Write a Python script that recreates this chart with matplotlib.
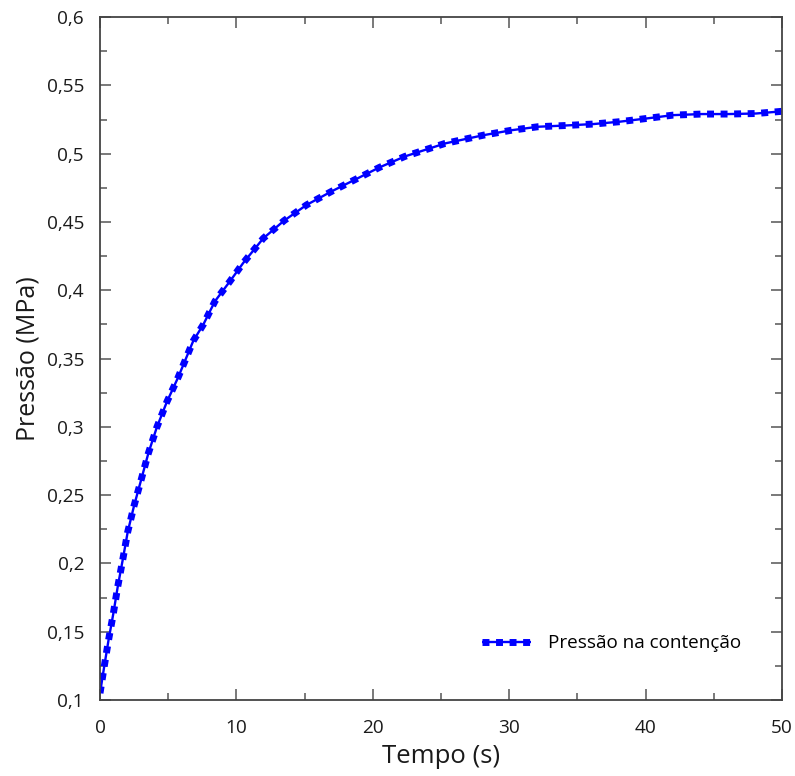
import matplotlib
matplotlib.use("Agg")
import matplotlib.pyplot as plt
from matplotlib.ticker import MultipleLocator, FuncFormatter

plt.rcParams["font.family"] = ["Open Sans", "DejaVu Sans"]

# values
tempo = [0, 0.3, 0.61, 0.98, 1.30, 1.69, 2.03, 2.49, 3.01, 3.54, 4.16, 4.89,
         5.74, 6.84, 7.58, 8.43, 9.53, 10.5, 11.97, 13.5, 15.15, 17.0, 18.7,
         20.5, 22.36, 25.3, 28.15, 30.2, 32.1, 34.1, 36.2, 38.1, 40.1, 42.0,
         44.1, 46.1, 48.1, 50.0]
pressao = [0.105, 0.124, 0.143, 0.1635, 0.183, 0.204, 0.223, 0.242, 0.261,
           0.2805, 0.2995, 0.318, 0.3365, 0.363, 0.375, 0.392, 0.4066, 0.420,
           0.438, 0.451, 0.4625, 0.4725, 0.481, 0.490, 0.498, 0.5075, 0.5136,
           0.5172, 0.5197, 0.5206, 0.5217, 0.5234, 0.5258, 0.5282, 0.529,
           0.529, 0.5294, 0.531]
serie = "Pressão na contenção"


def virgula(v, pos):
    s = f"{v:.3f}".rstrip("0").rstrip(".")
    return s.replace(".", ",")


fig = plt.figure(figsize=(7.95, 7.76), dpi=100)
ax = fig.add_axes([0.1258, 0.0979, 0.8578, 0.8801])

# thin line + a thick dashed copy that reads as square markers along the path
ln, = ax.plot(tempo, pressao, color="#0000ff", lw=1.7, solid_capstyle="butt")
sq, = ax.plot(tempo, pressao, color="#0000ff", lw=5.0,
              dashes=(1.0, 0.95), dash_capstyle="butt")

ax.set_xlim(0, 50)
ax.set_ylim(0.1, 0.6)
ax.xaxis.set_major_locator(MultipleLocator(10))
ax.xaxis.set_minor_locator(MultipleLocator(5))
ax.yaxis.set_major_locator(MultipleLocator(0.05))
ax.yaxis.set_minor_locator(MultipleLocator(0.025))
ax.yaxis.set_major_formatter(FuncFormatter(virgula))

ax.tick_params(which="both", direction="in", top=True, right=True,
               color="#555555", labelsize=13.7, labelcolor="#1a1a1a")
ax.tick_params(axis="x", pad=14)
ax.tick_params(axis="y", pad=11.5)
ax.tick_params(which="major", length=8, width=1.1)
ax.tick_params(which="minor", length=5, width=1.1)
for sp in ax.spines.values():
    sp.set_color("#444444")
    sp.set_linewidth(1.3)

ax.set_xlabel("Tempo (s)", fontsize=18.5, color="#1a1a1a", labelpad=5)
ax.set_ylabel("Pressão (MPa)", fontsize=18, color="#1a1a1a", labelpad=4)

ax.legend([(ln, sq)], [serie], loc="lower right", frameon=False,
          fontsize=13.6, bbox_to_anchor=(0.965, 0.045), handlelength=2.6,
          handletextpad=0.9)

fig.savefig("out.png", dpi=100)
